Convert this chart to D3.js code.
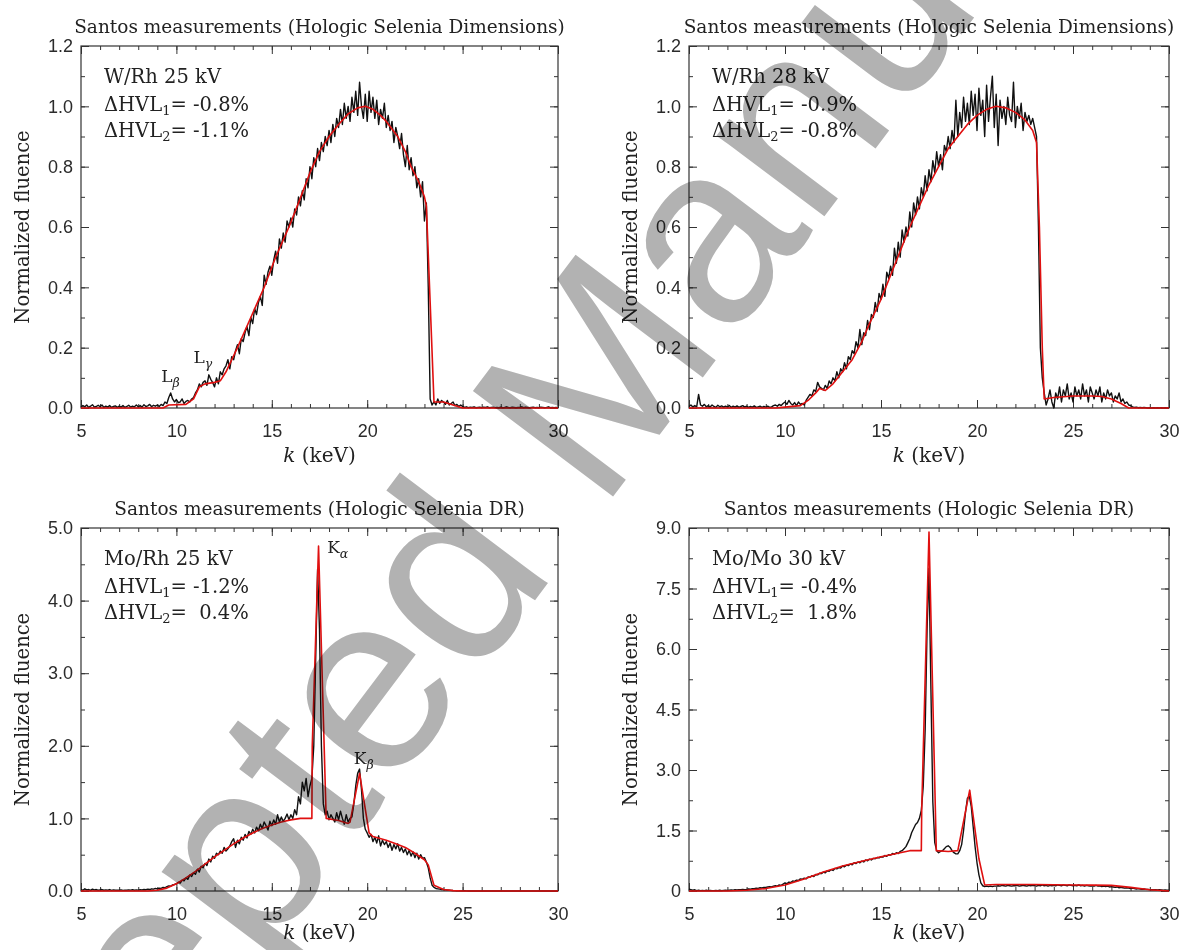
<!DOCTYPE html>
<html>
<head>
<meta charset="utf-8">
<script src="https://cdn.jsdelivr.net/npm/d3@7"></script>
<style>
  body { margin: 0; background: #fff; }
  svg { display: block; }
  .tick text { font-family: "Liberation Sans", Arial, sans-serif; font-size: 18px; fill: #2b2b2b; }
  .serif { font-family: "DejaVu Serif", serif; fill: #222; white-space: pre; }
</style>
</head>
<body>
<div id="chart"></div>
<script>
// energy axis (keV), shared by all four panels
const energyTicks = [5, 10, 15, 20, 25, 30];
const energyMinor = d3.range(5, 31, 1);

// measured spectra are sampled every 0.1 keV starting at 5 keV
const measStart = 5, measStep = 0.1;

// y tick labels
const yTicksWRh = [0, 0.2, 0.4, 0.6, 0.8, 1.0, 1.2];
const yTicksMoRh = [0, 1, 2, 3, 4, 5];
const yTicksMoMo = [0, 1.5, 3, 4.5, 6, 7.5, 9];

// panel text
const titles = ["Santos measurements (Hologic Selenia Dimensions)", "Santos measurements (Hologic Selenia Dimensions)",
  "Santos measurements (Hologic Selenia DR)", "Santos measurements (Hologic Selenia DR)"];
const beams = ["W/Rh 25 kV", "W/Rh 28 kV", "Mo/Rh 25 kV", "Mo/Mo 30 kV"];
const dHvl1 = ["= -0.8%", "= -0.9%", "= -1.2%", "= -0.4%"];
const dHvl2 = ["= -1.1%", "= -0.8%", "=  0.4%", "=  1.8%"];

// model (red) spectra [k, fluence]
const modelWRh25 = [[5,0],[9.3,0],[9.6,0.01],[10.5,0.012],[10.9,0.03],[11.2,0.07],[11.5,0.08],[12.0,0.085],[12.3,0.09],
  [12.6,0.12],[13.2,0.2],[13.9,0.3],[14.6,0.4],[15.2,0.5],[15.9,0.6],[16.4,0.68],[17.0,0.78],[17.5,0.85],[18.0,0.9],
  [18.5,0.94],[19.0,0.975],[19.5,0.995],[19.9,1.0],[20.3,0.99],[20.7,0.97],[21.0,0.95],[21.6,0.9],[22.0,0.85],
  [22.3,0.8],[22.7,0.75],[23.0,0.7],[23.1,0.67],[23.3,0.35],[23.5,0.02],[24.0,0.02],[24.5,0.01],[25.0,0],[30,0]];
const modelWRh28 = [[5,0],[9.5,0],[10.0,0.003],[10.8,0.008],[11.2,0.025],[11.6,0.05],[11.8,0.065],[12.1,0.058],
  [12.5,0.08],[13.0,0.12],[13.5,0.16],[14.0,0.22],[14.4,0.28],[15.0,0.36],[15.5,0.44],[16.0,0.52],[16.5,0.6],
  [17.0,0.67],[17.5,0.74],[18.0,0.8],[18.5,0.86],[19.0,0.9],[19.5,0.94],[20.0,0.97],[20.5,0.99],[21.0,1.0],
  [21.5,0.995],[22.0,0.98],[22.5,0.955],[22.9,0.92],[23.1,0.88],[23.25,0.6],[23.4,0.2],[23.5,0.03],[24.0,0.035],
  [25.0,0.04],[26.0,0.04],[26.5,0.038],[27.0,0.03],[27.5,0.015],[27.9,0],[30,0]];
const modelMoRh25 = [[5,0],[8.5,0],[9.0,0.01],[9.5,0.04],[10.0,0.1],[10.5,0.18],[11.0,0.27],[11.5,0.37],[12.0,0.47],
  [12.5,0.56],[13.0,0.65],[13.5,0.73],[14.0,0.8],[14.5,0.86],[15.0,0.91],[15.5,0.95],[16.0,0.98],[16.5,1.0],
  [17.1,1.0],[17.12,2.0],[17.45,4.75],[17.85,1.0],[18.5,0.97],[19.0,0.93],[19.1,0.95],[19.6,1.62],[20.1,0.8],
  [20.3,0.75],[21.0,0.7],[21.5,0.65],[22.0,0.6],[22.5,0.52],[23.0,0.43],[23.2,0.36],[23.5,0.08],[24.0,0.02],
  [24.5,0.005],[25,0],[30,0]];
const modelMoMo30 = [[5,0],[7.0,0],[8.0,0.02],[9.0,0.06],[10.0,0.15],[11.0,0.3],[12.0,0.47],[13.0,0.62],[14.0,0.74],
  [15.0,0.85],[16.0,0.95],[16.5,1.0],[17.1,1.0],[17.12,2.0],[17.5,8.9],[17.88,1.0],[18.5,0.98],[19.0,1.0],
  [19.62,2.5],[20.1,0.8],[20.4,0.15],[21,0.16],[23,0.16],[25,0.15],[26,0.145],[27,0.14],[28,0.09],[29,0.03],[30,0]];

// measured (black) spectra, 5.0 .. 30.0 keV
const measWRh25 = [
  0.003,0.008,0.004,0.01,0.002,0.006,0.011,0.003,0.005,0.009,
  0.004,0.01,0.002,0.006,0.003,0.008,0.002,0.005,0.007,0.002,
  0.006,0.003,0.008,0.002,0.005,0.009,0.003,0.006,0.004,0.01,
  0.004,0.008,0.003,0.011,0.005,0.007,0.012,0.004,0.009,0.006,
  0.01,0.005,0.012,0.008,0.02,0.015,0.035,0.05,0.03,0.02,
  0.028,0.018,0.02,0.03,0.015,0.022,0.025,0.02,0.03,0.035,
  0.05,0.06,0.08,0.07,0.085,0.09,0.075,0.11,0.095,0.085,
  0.07,0.1,0.08,0.12,0.11,0.13,0.14,0.16,0.13,0.17,
  0.16,0.19,0.21,0.18,0.23,0.22,0.25,0.27,0.24,0.3,
  0.28,0.33,0.31,0.35,0.37,0.34,0.44,0.41,0.45,0.47,
  0.44,0.49,0.52,0.48,0.56,0.53,0.58,0.55,0.62,0.6,
  0.63,0.6,0.66,0.64,0.7,0.67,0.72,0.69,0.76,0.73,
  0.8,0.76,0.83,0.8,0.86,0.82,0.88,0.85,0.9,0.87,
  0.92,0.88,0.94,0.9,0.96,0.93,0.99,0.94,1.01,0.96,
  1.0,0.95,1.03,0.98,1.05,0.97,1.08,1.0,0.96,1.04,
  0.95,1.05,0.98,1.03,0.96,1.02,0.94,0.99,0.96,1.01,
  0.93,0.97,0.92,0.95,0.88,0.93,0.9,0.86,0.91,0.84,
  0.8,0.87,0.79,0.83,0.77,0.8,0.73,0.76,0.7,0.75,
  0.62,0.68,0.4,0.03,0.01,0.02,0.01,0.03,0.015,0.025,
  0.02,0.012,0.025,0.01,0.015,0.02,0.008,0.012,0.005,0.01,
  0.005,0.002,0.004,0.001,0.003,0.002,0.004,0.001,0.002,0.003,
  0.001,0.003,0.002,0.004,0.001,0.002,0.003,0.001,0.002,0.001,
  0.003,0.001,0.002,0.004,0.002,0.001,0.003,0.002,0.001,0.002,
  0.002,0.004,0.001,0.003,0.002,0.001,0.002,0.003,0.001,0.002,
  0.001,0.003,0.002,0.001,0.002,0.004,0.001,0.002,0.001,0.002,
  0.001];
const measWRh28 = [
  0.005,0.01,0.003,0.008,0.004,0.045,0.01,0.006,0.012,0.004,
  0.008,0.003,0.01,0.005,0.002,0.009,0.004,0.007,0.003,0.006,
  0.004,0.008,0.002,0.006,0.003,0.007,0.002,0.005,0.008,0.003,
  0.006,0.002,0.005,0.003,0.007,0.002,0.004,0.006,0.002,0.005,
  0.003,0.006,0.002,0.004,0.008,0.01,0.006,0.012,0.008,0.015,
  0.02,0.012,0.025,0.015,0.01,0.018,0.008,0.02,0.012,0.015,
  0.01,0.025,0.035,0.045,0.04,0.06,0.055,0.085,0.07,0.065,
  0.06,0.075,0.065,0.09,0.08,0.1,0.09,0.12,0.1,0.13,
  0.12,0.15,0.13,0.17,0.16,0.19,0.18,0.22,0.2,0.26,
  0.21,0.25,0.24,0.29,0.26,0.31,0.3,0.35,0.32,0.38,
  0.36,0.41,0.37,0.45,0.43,0.47,0.44,0.53,0.48,0.55,
  0.5,0.59,0.55,0.6,0.57,0.65,0.6,0.68,0.64,0.7,
  0.66,0.73,0.7,0.77,0.72,0.79,0.75,0.82,0.78,0.85,
  0.8,0.84,0.79,0.87,0.85,0.9,0.86,0.92,0.88,1.02,
  0.9,0.98,0.93,1.03,0.95,1.01,0.94,1.05,0.97,1.04,
  0.92,1.06,0.97,1.02,0.9,1.07,0.95,1.03,1.1,0.93,
  1.04,0.87,1.02,0.96,1.0,0.94,1.03,0.97,0.95,1.08,
  0.93,1.0,0.96,1.01,0.92,0.98,0.95,0.97,0.94,0.96,
  0.93,0.9,0.6,0.2,0.1,0.05,0.01,0.03,0.06,0.02,
  0.0,0.05,0.03,0.07,0.02,0.06,0.04,0.08,0.03,0.05,
  0.02,0.07,0.04,0.06,0.03,0.08,0.04,0.06,0.02,0.07,
  0.05,0.03,0.06,0.04,0.07,0.02,0.05,0.03,0.06,0.04,
  0.05,0.02,0.04,0.03,0.05,0.02,0.03,0.015,0.02,0.01,
  0.008,0.004,0.002,0.003,0.001,0.002,0.001,0.002,0.001,0.0,
  0.001,0.0,0.001,0.0,0.001,0.0,0.001,0.0,0.001,0.0,
  0.0];
const measMoRh25 = [
  0.02,0.01,0.03,0.015,0.02,0.01,0.025,0.015,0.02,0.01,
  0.015,0.02,0.01,0.015,0.01,0.02,0.008,0.015,0.01,0.012,
  0.01,0.015,0.008,0.012,0.01,0.015,0.012,0.018,0.01,0.015,
  0.012,0.018,0.015,0.02,0.018,0.025,0.02,0.03,0.025,0.035,
  0.03,0.04,0.035,0.05,0.045,0.06,0.07,0.065,0.085,0.09,
  0.1,0.12,0.11,0.15,0.14,0.18,0.16,0.22,0.2,0.25,
  0.23,0.3,0.26,0.34,0.32,0.38,0.35,0.44,0.4,0.48,
  0.45,0.52,0.5,0.55,0.52,0.6,0.55,0.58,0.62,0.68,
  0.72,0.6,0.7,0.65,0.74,0.7,0.78,0.73,0.82,0.78,
  0.85,0.8,0.88,0.83,0.92,0.86,0.95,0.9,0.84,0.96,
  0.9,0.98,0.92,1.05,0.95,1.02,0.96,1.0,1.06,0.98,
  1.05,1.0,1.12,1.05,1.3,1.2,1.5,1.38,1.55,1.3,
  1.45,1.55,2.0,3.2,4.43,3.6,2.0,1.2,1.05,1.1,
  0.98,1.05,1.0,0.95,1.08,0.98,1.1,1.0,0.92,1.05,
  0.95,1.0,1.02,1.2,1.45,1.62,1.68,1.4,1.0,0.85,
  0.8,0.74,0.78,0.68,0.74,0.66,0.76,0.62,0.7,0.64,
  0.68,0.6,0.66,0.56,0.64,0.58,0.65,0.55,0.6,0.53,
  0.58,0.5,0.56,0.48,0.54,0.46,0.52,0.44,0.5,0.45,
  0.46,0.4,0.32,0.18,0.08,0.05,0.035,0.03,0.025,0.02,
  0.02,0.015,0.012,0.01,0.008,0.006,0.005,0.004,0.003,0.002,
  0.002,0.003,0.002,0.001,0.002,0.001,0.002,0.001,0.001,0.002,
  0.001,0.001,0.002,0.001,0.001,0.0,0.001,0.001,0.0,0.001,
  0.0,0.001,0.0,0.001,0.0,0.0,0.001,0.0,0.0,0.001,
  0.0,0.0,0.001,0.0,0.0,0.0,0.001,0.0,0.0,0.0,
  0.0,0.0,0.0,0.001,0.0,0.0,0.0,0.0,0.0,0.0,
  0.0];
const measMoMo30 = [
  0.05,0.03,0.02,0.03,0.01,0.02,0.01,0.015,0.01,0.02,
  0.01,0.015,0.01,0.01,0.015,0.01,0.02,0.01,0.015,0.02,
  0.015,0.02,0.025,0.02,0.03,0.025,0.035,0.03,0.04,0.035,
  0.04,0.05,0.045,0.06,0.055,0.07,0.065,0.08,0.075,0.09,
  0.09,0.1,0.11,0.1,0.12,0.13,0.12,0.15,0.14,0.17,
  0.2,0.18,0.22,0.21,0.25,0.24,0.27,0.26,0.3,0.29,
  0.32,0.3,0.35,0.34,0.38,0.36,0.41,0.4,0.44,0.43,
  0.47,0.45,0.5,0.49,0.53,0.51,0.56,0.55,0.58,0.57,
  0.62,0.6,0.64,0.63,0.67,0.65,0.7,0.68,0.72,0.7,
  0.74,0.72,0.77,0.75,0.79,0.77,0.81,0.8,0.83,0.82,
  0.85,0.84,0.88,0.86,0.9,0.89,0.93,0.91,0.95,0.93,
  0.98,1.0,1.05,1.1,1.2,1.3,1.45,1.55,1.65,1.7,
  1.8,2.0,2.6,4.0,6.5,8.0,5.0,2.2,1.2,1.0,
  0.95,0.98,1.0,1.05,1.1,1.12,1.08,1.0,0.95,0.92,
  0.92,1.0,1.15,1.5,1.95,2.3,2.35,2.1,1.6,1.1,
  0.7,0.4,0.2,0.13,0.11,0.12,0.11,0.12,0.11,0.12,
  0.12,0.13,0.12,0.14,0.13,0.12,0.14,0.13,0.12,0.13,
  0.13,0.14,0.12,0.13,0.14,0.13,0.12,0.14,0.13,0.14,
  0.13,0.12,0.14,0.13,0.15,0.13,0.14,0.12,0.14,0.13,
  0.14,0.13,0.15,0.14,0.13,0.15,0.14,0.13,0.15,0.14,
  0.13,0.14,0.13,0.15,0.13,0.14,0.12,0.14,0.13,0.12,
  0.13,0.12,0.14,0.12,0.13,0.11,0.12,0.11,0.12,0.1,
  0.11,0.1,0.09,0.1,0.08,0.09,0.08,0.07,0.08,0.07,
  0.06,0.07,0.06,0.05,0.06,0.05,0.04,0.05,0.04,0.04,
  0.035,0.03,0.035,0.03,0.025,0.03,0.025,0.02,0.025,0.02,
  0.02];

// characteristic line labels: [k, fluence, main letter, greek subscript]
const linesWRh25 = [[9.2, 0.085, "L", "β"], [10.9, 0.15, "L", "γ"]];
const linesMoRh25 = [[17.9, 4.65, "K", "α"], [19.3, 1.75, "K", "β"]];

const W = 1183, H = 950;
const svg = d3.select("#chart").append("svg")
  .attr("width", W).attr("height", H);
svg.append("rect").attr("width", W).attr("height", H).attr("fill", "#fff");

const fmt1 = d3.format(".1f");
const fmtMoMo = d => d === 0 ? "0" : d3.format(".1f")(d);

const panels = [
  { box: [81, 558, 46, 408], yMax: 1.2, yTicks: yTicksWRh, yMinorStep: 0.1, fmt: fmt1,
    model: modelWRh25, meas: measWRh25, lines: linesWRh25, xTitleGap: 54 },
  { box: [689, 1169, 46, 408], yMax: 1.2, yTicks: yTicksWRh, yMinorStep: 0.1, fmt: fmt1,
    model: modelWRh28, meas: measWRh28, lines: [], xTitleGap: 54 },
  { box: [81, 558, 528, 891], yMax: 5, yTicks: yTicksMoRh, yMinorStep: 0.5, fmt: fmt1,
    model: modelMoRh25, meas: measMoRh25, lines: linesMoRh25, xTitleGap: 48 },
  { box: [689, 1169, 528, 891], yMax: 9, yTicks: yTicksMoMo, yMinorStep: 0.75, fmt: fmtMoMo,
    model: modelMoMo30, meas: measMoMo30, lines: [], xTitleGap: 48 }
];

panels.forEach((p, i) => {
  const [x0, x1, y0, y1] = p.box;
  const x = d3.scaleLinear().domain([5, 30]).range([x0, x1]);
  const y = d3.scaleLinear().domain([0, p.yMax]).range([y1, y0]);
  const g = svg.append("g");
  const yMinor = d3.range(0, p.yMax + 1e-6, p.yMinorStep);
  const noDomain = s => s.select(".domain").remove();

  // ticks on all four sides, pointing inward
  g.append("g").attr("transform", `translate(0,${y1})`).attr("color", "#333")
    .call(d3.axisBottom(x).tickValues(energyTicks).tickSize(-8).tickPadding(16).tickFormat(d3.format("d")))
    .call(noDomain);
  g.append("g").attr("transform", `translate(0,${y1})`).attr("color", "#333")
    .call(d3.axisBottom(x).tickValues(energyMinor).tickSize(-4).tickFormat(""))
    .call(noDomain);
  g.append("g").attr("transform", `translate(0,${y0})`).attr("color", "#333")
    .call(d3.axisTop(x).tickValues(energyTicks).tickSize(-8).tickFormat(""))
    .call(noDomain);
  g.append("g").attr("transform", `translate(0,${y0})`).attr("color", "#333")
    .call(d3.axisTop(x).tickValues(energyMinor).tickSize(-4).tickFormat(""))
    .call(noDomain);
  g.append("g").attr("transform", `translate(${x0},0)`).attr("color", "#333")
    .call(d3.axisLeft(y).tickValues(p.yTicks).tickSize(-8).tickPadding(8).tickFormat(p.fmt))
    .call(noDomain);
  g.append("g").attr("transform", `translate(${x0},0)`).attr("color", "#333")
    .call(d3.axisLeft(y).tickValues(yMinor).tickSize(-4).tickFormat(""))
    .call(noDomain);
  g.append("g").attr("transform", `translate(${x1},0)`).attr("color", "#333")
    .call(d3.axisRight(y).tickValues(p.yTicks).tickSize(-8).tickFormat(""))
    .call(noDomain);
  g.append("g").attr("transform", `translate(${x1},0)`).attr("color", "#333")
    .call(d3.axisRight(y).tickValues(yMinor).tickSize(-4).tickFormat(""))
    .call(noDomain);

  g.append("rect")
    .attr("x", x0).attr("y", y0).attr("width", x1 - x0).attr("height", y1 - y0)
    .attr("fill", "none").attr("stroke", "#333").attr("stroke-width", 1.2);

  // curves
  const line = d3.line().x(d => x(d[0])).y(d => y(d[1]));
  const measPts = p.meas.map((v, j) => [measStart + j * measStep, v]);
  g.append("path").datum(measPts)
    .attr("d", line).attr("fill", "none").attr("stroke", "#111").attr("stroke-width", 1.4)
    .attr("stroke-linejoin", "round");
  g.append("path").datum(p.model)
    .attr("d", line).attr("fill", "none").attr("stroke", "#e01010").attr("stroke-width", 1.6)
    .attr("stroke-linejoin", "round");

  // title
  g.append("text").attr("class", "serif")
    .attr("x", (x0 + x1) / 2).attr("y", y0 - 13)
    .attr("text-anchor", "middle").attr("font-size", 18.5)
    .text(titles[i]);

  // axis titles
  const xt = g.append("text").attr("class", "serif")
    .attr("x", (x0 + x1) / 2).attr("y", y1 + p.xTitleGap)
    .attr("text-anchor", "middle").attr("font-size", 20);
  xt.append("tspan").attr("font-style", "italic").text("k");
  xt.append("tspan").text(" (keV)");

  g.append("text").attr("class", "serif")
    .attr("transform", `translate(${x0 - 52},${(y0 + y1) / 2}) rotate(-90)`)
    .attr("text-anchor", "middle").attr("font-size", 19.5)
    .text("Normalized fluence");

  // annotations
  const ax = x0 + 23;
  g.append("text").attr("class", "serif").attr("x", ax).attr("y", y0 + 37)
    .attr("font-size", 19.5).text(beams[i]);
  [[dHvl1[i], "1", 65], [dHvl2[i], "2", 91]].forEach(([val, sub, dy]) => {
    const t = g.append("text").attr("class", "serif").attr("x", ax).attr("y", y0 + dy).attr("font-size", 19.5);
    t.append("tspan").text("ΔHVL");
    t.append("tspan").attr("font-size", 13).attr("dy", 4).text(sub);
    t.append("tspan").attr("dy", -4).text(val);
  });

  p.lines.forEach(([k, v, main, sub]) => {
    const t = g.append("text").attr("class", "serif")
      .attr("x", x(k)).attr("y", y(v)).attr("font-size", 17);
    t.append("tspan").text(main);
    t.append("tspan").attr("font-size", 12.5).attr("dy", 5).attr("font-style", "italic").text(sub);
  });
});

// watermark
svg.append("text")
  .attr("transform", "translate(-82,1419) rotate(-53)")
  .attr("font-family", "'Liberation Sans', Arial, sans-serif")
  .attr("font-size", 255)
  .attr("fill", "#b2b2b2")
  .style("mix-blend-mode", "multiply")
  .text("Accepted Manuscript");
</script>
</body>
</html>
